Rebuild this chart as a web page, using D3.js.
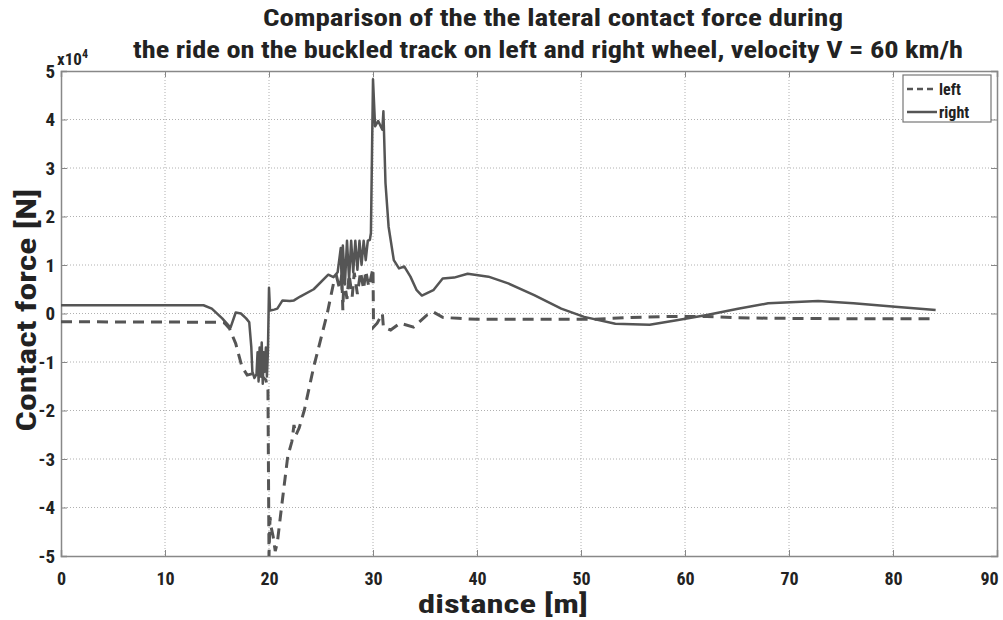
<!DOCTYPE html>
<html>
<head>
<meta charset="utf-8">
<script src="https://cdn.jsdelivr.net/npm/d3@7"></script>
<style>
  body { margin: 0; background: #fff; }
  svg { display: block; }
  text { font-family: "Liberation Sans Narrow", "Roboto Condensed", "Open Sans", sans-serif; font-weight: bold; fill: #222; }
</style>
</head>
<body>
<div id="chart"></div>
<script>
// data (force values in units of 1e4 N)
var xTicks = [0, 10, 20, 30, 40, 50, 60, 70, 80, 90];
var yTicks = [-5, -4, -3, -2, -1, 0, 1, 2, 3, 4, 5];

var rightX = [0, 13.7, 14.5, 15.5, 16.3, 16.8, 17.3, 17.8, 18.1, 18.3, 18.4, 18.6, 18.8, 18.9, 19.0, 19.1, 19.2, 19.3, 19.4, 19.5, 19.6, 19.7, 19.8, 19.9,
  20.0, 20.1, 20.5, 20.8, 21.3, 22.0, 22.4, 23.0, 24.3, 25.7, 26.2, 26.6, 26.9, 27.0, 27.1, 27.3, 27.5, 27.7, 27.9, 28.1, 28.3, 28.5, 28.7, 28.9,
  29.1, 29.3, 29.5, 29.7, 29.8, 30.0, 30.2, 30.5, 30.9, 31.0, 31.2, 31.5, 32.0, 32.5, 33.0, 33.6, 34.2, 34.7, 35.8, 36.7, 37.8, 39.1, 41.1,
  43.0, 45.5, 48.1, 50.3, 53.3, 56.6, 59.2, 62.1, 65.1, 68.0, 72.8, 76.2, 80.2, 84.1];
var rightY = [0.17, 0.17, 0.1, -0.1, -0.29, 0.02, 0.0, -0.1, -0.18, -0.7, -1.2, -1.33, -1.25, -0.8, -1.4, -0.7, -1.3, -0.6, -1.45, -0.8, -1.2, -0.7, -1.3, -0.75,
  0.53, 0.06, 0.08, 0.1, 0.27, 0.26, 0.27, 0.35, 0.5, 0.8, 0.75, 0.85, 1.35, 0.5, 1.4, 0.6, 1.5, 0.7, 1.5, 0.85, 1.5, 0.9, 1.5, 1.0,
  1.5, 1.1, 1.5, 1.52, 1.66, 4.83, 3.86, 3.97, 3.79, 4.17, 2.69, 1.79, 1.1, 0.93, 0.97, 0.76, 0.48, 0.37, 0.48, 0.72, 0.74, 0.82, 0.76,
  0.62, 0.38, 0.1, -0.07, -0.21, -0.23, -0.14, -0.03, 0.1, 0.21, 0.26, 0.21, 0.14, 0.07];

var leftX = [0, 15.0, 15.7, 16.2, 16.8, 17.4, 17.9, 18.6, 19.2, 19.7, 19.9, 20.0, 20.1, 20.2, 20.4, 20.6, 20.8, 21.1, 21.8, 22.2, 22.4, 22.6, 22.9,
  23.4, 24.3, 25.6, 26.2, 26.5, 26.8, 27.0, 27.1, 27.2, 27.5, 27.7, 28.0, 28.2, 28.5, 28.8, 29.1, 29.3, 29.6, 30.0, 30.05, 30.4, 30.9, 31.0,
  31.7, 32.6, 33.9, 35.2, 35.8, 36.7, 38.2, 40, 50, 51.1, 54.8, 59.2, 62.1, 65.1, 69.5, 76.9, 84.1];
var leftY = [-0.17, -0.18, -0.19, -0.31, -0.62, -1.1, -1.27, -1.23, -1.27, -1.37, -1.58, -5.0, -4.2, -4.4, -4.6, -4.9, -4.73, -4.18, -2.95, -2.64, -2.3, -2.5, -2.36,
  -1.99, -1.1, 0, 0.62, 0.76, 0.5, 0.8, 0.07, 0.72, 0.3, 0.8, 0.35, 0.84, 0.4, 0.86, 0.5, 0.88, 0.55, 0.93, -0.28, -0.2, 0.0, -0.28,
  -0.34, -0.2, -0.28, -0.03, 0.03, -0.08, -0.1, -0.12, -0.12, -0.12, -0.08, -0.06, -0.06, -0.09, -0.1, -0.11, -0.11];

var W = 1003, H = 620;
var mLeft = 61, mRight = 997, mTop = 71, mBottom = 556;
var lineColor = "#555";

var svg = d3.select("#chart").append("svg")
  .attr("width", W)
  .attr("height", H);

var x = d3.scaleLinear().domain([0, 90]).range([mLeft, mRight]);
var y = d3.scaleLinear().domain([-5, 5]).range([mBottom, mTop]);

// plain hyphen for negatives, like the original
var fmt = function(d) { return String(d); };

// grid
svg.append("g").selectAll("line")
  .data(xTicks.slice(1, -1)).enter().append("line")
  .attr("x1", function(d) { return x(d); }).attr("x2", function(d) { return x(d); })
  .attr("y1", mTop).attr("y2", mBottom)
  .attr("stroke", "#b0b0b0").attr("stroke-width", 1).attr("stroke-dasharray", "1,2");
svg.append("g").selectAll("line")
  .data(yTicks.slice(1, -1)).enter().append("line")
  .attr("x1", mLeft).attr("x2", mRight)
  .attr("y1", function(d) { return y(d); }).attr("y2", function(d) { return y(d); })
  .attr("stroke", "#b0b0b0").attr("stroke-width", 1).attr("stroke-dasharray", "1,2");

// axes (ticks inside)
svg.append("g").attr("transform", "translate(0," + mBottom + ")")
  .call(d3.axisBottom(x).tickValues(xTicks).tickSize(-6).tickPadding(16).tickFormat(fmt))
  .call(function(g) {
    g.select(".domain").attr("stroke", "#888").attr("stroke-width", 1.5);
    g.selectAll(".tick line").attr("stroke", "#888");
    g.selectAll("text").attr("font-size", 18).style("font-family", null).attr("fill", "#222")
      .attr("dx", function(d) { return d === 90 ? -8 : 0; });
  });
svg.append("g").attr("transform", "translate(" + mLeft + ",0)")
  .call(d3.axisLeft(y).tickValues(yTicks).tickSize(-6).tickPadding(6).tickFormat(fmt))
  .call(function(g) {
    g.select(".domain").attr("stroke", "#888").attr("stroke-width", 1.5);
    g.selectAll(".tick line").attr("stroke", "#888");
    g.selectAll("text").attr("font-size", 19).style("font-family", null).attr("fill", "#222");
  });
svg.append("g").attr("transform", "translate(0," + mTop + ")")
  .call(d3.axisTop(x).tickValues(xTicks).tickSize(-6).tickFormat(""))
  .call(function(g) {
    g.select(".domain").attr("stroke", "#888").attr("stroke-width", 1.5);
    g.selectAll(".tick line").attr("stroke", "#888");
  });
svg.append("g").attr("transform", "translate(" + mRight + ",0)")
  .call(d3.axisRight(y).tickValues(yTicks).tickSize(-6).tickFormat(""))
  .call(function(g) {
    g.select(".domain").attr("stroke", "#888").attr("stroke-width", 1.5);
    g.selectAll(".tick line").attr("stroke", "#888");
  });

// clip to plot area
svg.append("clipPath").attr("id", "plotClip")
  .append("rect").attr("x", mLeft).attr("y", mTop).attr("width", mRight - mLeft).attr("height", mBottom - mTop);

var line = d3.line()
  .x(function(d) { return x(d[0]); })
  .y(function(d) { return y(d[1]); });

var leftData = leftX.map(function(v, i) { return [v, leftY[i]]; });
var rightData = rightX.map(function(v, i) { return [v, rightY[i]]; });

svg.append("path")
  .datum(leftData)
  .attr("clip-path", "url(#plotClip)")
  .attr("d", line)
  .attr("fill", "none")
  .attr("stroke", lineColor)
  .attr("stroke-width", 3)
  .attr("stroke-dasharray", "11,7");

svg.append("path")
  .datum(rightData)
  .attr("clip-path", "url(#plotClip)")
  .attr("d", line)
  .attr("fill", "none")
  .attr("stroke", lineColor)
  .attr("stroke-width", 2.5)
  .attr("stroke-linejoin", "round");

// exponent label
var expo = svg.append("text").attr("x", 57).attr("y", 65).attr("font-size", 17);
expo.append("tspan").text("x10");
expo.append("tspan").attr("font-size", 12).attr("dy", -7).text("4");

// legend
var lg = svg.append("g");
lg.append("rect").attr("x", 903).attr("y", 75).attr("width", 88).attr("height", 47)
  .attr("fill", "#fff").attr("stroke", "#777").attr("stroke-width", 1.2);
lg.append("line").attr("x1", 907).attr("x2", 935).attr("y1", 89).attr("y2", 89)
  .attr("stroke", lineColor).attr("stroke-width", 2.5).attr("stroke-dasharray", "6,4");
lg.append("line").attr("x1", 907).attr("x2", 937).attr("y1", 112).attr("y2", 112)
  .attr("stroke", lineColor).attr("stroke-width", 2.5);
lg.append("text").attr("x", 939).attr("y", 95).attr("font-size", 16).text("left");
lg.append("text").attr("x", 939).attr("y", 118).attr("font-size", 16).text("right");

// titles
svg.append("text").attr("x", 553).attr("y", 26).attr("text-anchor", "middle")
  .attr("font-size", 23).attr("textLength", 580).attr("lengthAdjust", "spacingAndGlyphs")
  .text("Comparison of the the lateral contact force during");
svg.append("text").attr("x", 548).attr("y", 58).attr("text-anchor", "middle")
  .attr("font-size", 23).attr("textLength", 830).attr("lengthAdjust", "spacingAndGlyphs")
  .text("the ride on the buckled track on left and right wheel, velocity V = 60 km/h");

// axis titles
svg.append("text").attr("x", 503).attr("y", 613).attr("text-anchor", "middle")
  .attr("font-size", 25).attr("textLength", 170).attr("lengthAdjust", "spacingAndGlyphs")
  .text("distance [m]");
svg.append("text").attr("transform", "translate(36,310) rotate(-90)").attr("text-anchor", "middle")
  .attr("font-size", 27).attr("textLength", 243).attr("lengthAdjust", "spacingAndGlyphs")
  .text("Contact force [N]");
</script>
</body>
</html>
